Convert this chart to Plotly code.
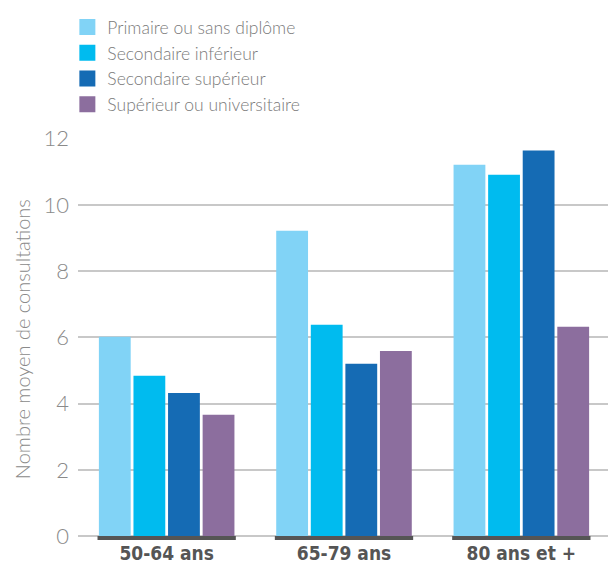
import plotly.graph_objects as go

categories = ["50-64 ans", "65-79 ans", "80 ans et +"]
series_names = ["Primaire ou sans diplôme", "Secondaire inférieur",
                "Secondaire supérieur", "Supérieur ou universitaire"]
primaire = [6.02, 9.22, 11.21]
sec_inf = [4.84, 6.38, 10.91]
sec_sup = [4.32, 5.20, 11.64]
superieur = [3.66, 5.59, 6.32]
y_ticks = [0, 2, 4, 6, 8, 10, 12]
colors = ["#81D3F6", "#00BBEF", "#156BB4", "#8C6E9E"]

values = [primaire, sec_inf, sec_sup, superieur]
bargap = 0.22

fig = go.Figure()
for name, vals, col in zip(series_names, values, colors):
    fig.add_trace(go.Bar(x=categories, y=vals, name=name, marker_color=col,
                         marker_line_width=0, showlegend=False))
# legend proxies with larger square symbols
for name, col in zip(series_names, colors):
    fig.add_trace(go.Scatter(x=[None], y=[None], mode="markers", name=name,
                             marker=dict(symbol="square", size=17, color=col)))

# dark baseline under each group
for i, _ in enumerate(categories):
    fig.add_shape(type="rect", xref="x", yref="y",
                  x0=i - (1 - bargap) / 2, x1=i + (1 - bargap) / 2,
                  y0=-0.12, y1=0, fillcolor="#555555", line_width=0, layer="above")

fig.add_annotation(text="Nombre moyen de consultations", textangle=-90,
                   xref="paper", yref="paper", x=-0.105, y=0.5,
                   xanchor="center", yanchor="middle", showarrow=False,
                   font=dict(size=20, color="#8a8a8a", family="Lato", weight=300))

fig.update_layout(
    width=608, height=575,
    margin=dict(l=70, r=6, t=130, b=43, autoexpand=False),
    paper_bgcolor="white", plot_bgcolor="white",
    barmode="group", bargap=bargap, bargroupgap=0.08,
    font=dict(family="Lato", color="#808080"),
    legend=dict(x=-0.02, y=0.998, yref="container", xanchor="left", yanchor="top",
                font=dict(size=17.5, color="#7a7a7a", family="Lato", weight=300),
                tracegroupgap=0, itemwidth=30, bgcolor="rgba(0,0,0,0)"),
    xaxis=dict(showgrid=False, showline=False, ticks="", automargin=False,
               tickfont=dict(family="Liberation Sans Narrow, DejaVu Sans Condensed", size=19,
                             color="#555555", weight="bold")),
    yaxis=dict(range=[-0.12, 12.02], tickvals=y_ticks, showgrid=True, automargin=False,
               gridcolor="#C8C8C8", gridwidth=1.5, zeroline=False, showline=False,
               ticks="", ticklabelstandoff=8,
               tickfont=dict(size=22, color="#8a8a8a", family="Lato", weight=300)),
)

fig.write_html("out.html")
